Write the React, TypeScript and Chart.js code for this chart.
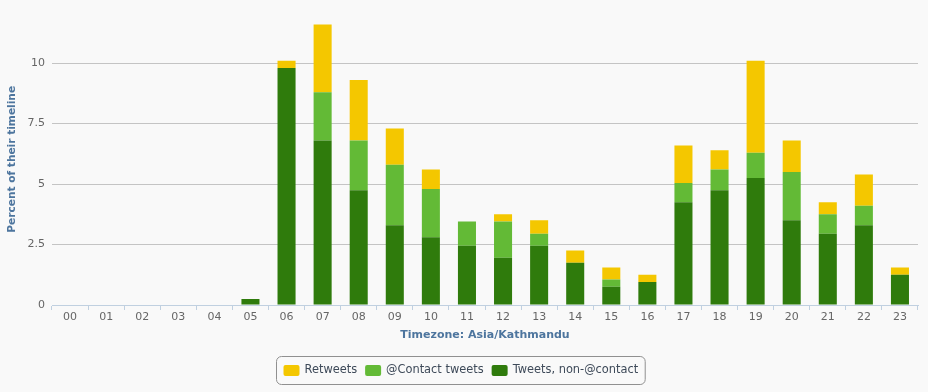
import React, { useEffect, useRef } from "react";
import { Chart, registerables } from "chart.js";

Chart.register(...registerables);

const hours = ["00","01","02","03","04","05","06","07","08","09","10","11","12","13","14","15","16","17","18","19","20","21","22","23"];
const nonContact = [0,0,0,0,0,0.25,9.8,6.8,4.75,3.3,2.8,2.45,1.95,2.45,1.75,0.75,0.95,4.25,4.75,5.25,3.5,2.95,3.3,1.25];
const contactTweets = [0,0,0,0,0,0,0,2.0,2.05,2.5,2.0,1.0,1.5,0.5,0,0.3,0,0.8,0.85,1.05,2.0,0.8,0.8,0];
const retweets = [0,0,0,0,0,0,0.3,2.8,2.5,1.5,0.8,0,0.3,0.55,0.5,0.5,0.3,1.55,0.8,3.8,1.3,0.5,1.3,0.3];
const yTicks = [0, 2.5, 5, 7.5, 10];
const seriesLabels = ["Tweets, non-@contact", "@Contact tweets", "Retweets"];
const seriesColors = ["#2f7b0c", "#63ba36", "#f4c700"];
const xTitle = "Timezone: Asia/Kathmandu";
const yTitle = "Percent of their timeline";

const FONT = '"DejaVu Sans", Verdana, sans-serif';

function roundRect(ctx: CanvasRenderingContext2D, x: number, y: number, w: number, h: number, r: number) {
  ctx.beginPath();
  ctx.moveTo(x + r, y);
  ctx.lineTo(x + w - r, y);
  ctx.arcTo(x + w, y, x + w, y + r, r);
  ctx.lineTo(x + w, y + h - r);
  ctx.arcTo(x + w, y + h, x + w - r, y + h, r);
  ctx.lineTo(x + r, y + h);
  ctx.arcTo(x, y + h, x, y + h - r, r);
  ctx.lineTo(x, y + r);
  ctx.arcTo(x, y, x + r, y, r);
  ctx.closePath();
}

const legendPlugin = {
  id: "customLegend",
  afterDraw(chart: any) {
    const ctx: CanvasRenderingContext2D = chart.ctx;
    ctx.save();
    ctx.font = "11.4px " + FONT;
    const items = chart.data.datasets.map((d: any) => ({ label: d.label, color: d.backgroundColor })).reverse();
    const sq = 16, sqGap = 5, itemGap = 8, pad = 7;
    const widths = items.map((it: any) => sq + sqGap + ctx.measureText(it.label).width);
    const total = pad * 2 + widths.reduce((a: number, b: number) => a + b, 0) + itemGap * (items.length - 1);
    const cx = (chart.chartArea.left + chart.chartArea.right) / 2 - 25;
    const left = Math.round(cx - total / 2) + 0.5;
    const top = chart.height - 36 + 0.5;
    const h = 28;
    roundRect(ctx, left, top, total, h, 5);
    ctx.strokeStyle = "#909090";
    ctx.lineWidth = 1;
    ctx.stroke();
    let x = left + pad;
    const midY = top + h / 2;
    items.forEach((it: any, i: number) => {
      roundRect(ctx, x, midY - 5.5, sq, 11, 2);
      ctx.fillStyle = it.color;
      ctx.fill();
      ctx.fillStyle = "#3e4a59";
      ctx.textBaseline = "middle";
      ctx.textAlign = "left";
      ctx.fillText(it.label, x + sq + sqGap, midY);
      x += widths[i] + itemGap;
    });
    ctx.restore();
  },
};

export default function App() {
  const ref = useRef<HTMLCanvasElement>(null);
  useEffect(() => {
    if (!ref.current) return;
    const chart = new Chart(ref.current, {
      type: "bar",
      data: {
        labels: hours,
        datasets: [
          { label: seriesLabels[0], data: nonContact, backgroundColor: seriesColors[0] },
          { label: seriesLabels[1], data: contactTweets, backgroundColor: seriesColors[1] },
          { label: seriesLabels[2], data: retweets, backgroundColor: seriesColors[2] },
        ],
      },
      options: {
        animation: false,
        responsive: false,
        layout: { padding: { top: 10, right: 10, bottom: 50, left: 0 } },
        datasets: { bar: { categoryPercentage: 1, barPercentage: 0.5 } },
        plugins: { legend: { display: false }, tooltip: { enabled: false } },
        scales: {
          x: {
            stacked: true,
            offset: true,
            grid: { display: true, drawOnChartArea: false, drawTicks: true, tickLength: 5, color: "#c0d0e0", offset: true },
            border: { display: true, color: "#c0d0e0" },
            ticks: { color: "#666666", font: { family: FONT, size: 11 }, padding: 1, maxRotation: 0, autoSkip: false },
            title: { display: true, text: xTitle, color: "#4d759e", font: { family: FONT, size: 11, weight: "bold" }, padding: { top: 0, bottom: 0 } },
            afterFit: (s: any) => { s.height = 37; },
          },
          y: {
            stacked: true,
            min: 0,
            max: 12.05,
            afterBuildTicks: (s: any) => { s.ticks = yTicks.map((v) => ({ value: v })); },
            grid: {
              drawTicks: false,
              color: (c: any) => (c.tick && c.tick.value === 0 ? "#c0d0e0" : "#c4c4c4"),
            },
            border: { display: false },
            ticks: { color: "#666666", font: { family: FONT, size: 11 }, padding: 7 },
            title: { display: true, text: yTitle, color: "#4d759e", font: { family: FONT, size: 10.6, weight: "bold" }, padding: { top: 6, bottom: 0 } },
            afterFit: (s: any) => { s.width = 52; },
          },
        },
      },
      plugins: [legendPlugin],
    });
    return () => chart.destroy();
  }, []);
  return (
    <div style={{ position: "absolute", left: 0, top: 0, width: 928, height: 392, background: "#f9f9f9" }}>
      <canvas ref={ref} width={928} height={392} style={{ display: "block" }} />
    </div>
  );
}
